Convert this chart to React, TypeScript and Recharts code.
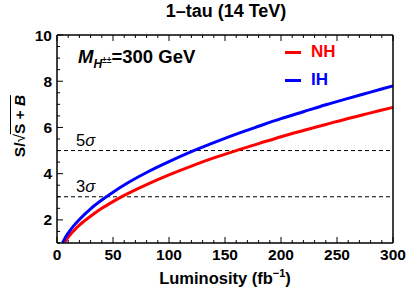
import { Line, LineChart, ReferenceLine, XAxis, YAxis } from 'recharts';

// luminosity (fb^-1) and significance
const lumi = [5, 7, 10, 15, 20, 30, 40, 50, 60, 80, 100, 120, 140, 160, 180, 200, 220, 240, 260, 280, 300];
const ihSig = [1.01, 1.2, 1.43, 1.75, 2.02, 2.48, 2.86, 3.2, 3.51, 4.05, 4.52, 4.95, 5.34, 5.71, 6.05, 6.38, 6.68, 6.98, 7.26, 7.53, 7.8];
const nhSig = [null, 1.04, 1.25, 1.53, 1.77, 2.16, 2.5, 2.79, 3.06, 3.53, 3.95, 4.33, 4.68, 5.0, 5.3, 5.6, 5.87, 6.13, 6.39, 6.63, 6.87];

const xTicks = [0, 10, 20, 30, 40, 50, 60, 70, 80, 90, 100, 110, 120, 130, 140, 150, 160, 170, 180, 190, 200, 210, 220, 230, 240, 250, 260, 270, 280, 290, 300];
const yTicks = [1, 1.5, 2, 2.5, 3, 3.5, 4, 4.5, 5, 5.5, 6, 6.5, 7, 7.5, 8, 8.5, 9, 9.5, 10];
const sigmaLines = [3, 5];

const series = [
  { key: 'nh', name: 'NH', color: '#ff0000' },
  { key: 'ih', name: 'IH', color: '#0000ff' },
];

const data = lumi.map((l, i) => ({ lumi: l, ih: ihSig[i], nh: nhSig[i] }));

const FONT = '"Liberation Sans", Arial, sans-serif';
const TICK_MARGIN = 5;

const isMajorX = (v: number) => v % 50 === 0;
const isMajorY = (v: number) => v % 2 === 0;

const BottomTick = ({ x, y, payload }: any) => {
  const v = payload.value;
  const axisY = y - TICK_MARGIN;
  return (
    <g>
      <line x1={x} x2={x} y1={axisY} y2={axisY - (isMajorX(v) ? 6 : 3)} stroke="#000" />
      {isMajorX(v) && (
        <text x={x} y={y} dy="0.8em" textAnchor="middle" fontFamily={FONT} fontWeight={700} fontSize={15.5} fill="#000">
          {v}
        </text>
      )}
    </g>
  );
};

const TopTick = ({ x, y, payload }: any) => (
  <line x1={x} x2={x} y1={y} y2={y + (isMajorX(payload.value) ? 6 : 3)} stroke="#000" />
);

const LeftTick = ({ x, y, payload }: any) => {
  const v = payload.value;
  const axisX = x + TICK_MARGIN;
  return (
    <g>
      <line x1={axisX} x2={axisX + (isMajorY(v) ? 6 : 3)} y1={y} y2={y} stroke="#000" />
      {isMajorY(v) && (
        <text x={x} y={y} dy="0.36em" textAnchor="end" fontFamily={FONT} fontWeight={700} fontSize={15.5} fill="#000">
          {v}
        </text>
      )}
    </g>
  );
};

const RightTick = ({ x, y, payload }: any) => (
  <line x1={x} x2={x - (isMajorY(payload.value) ? 6 : 3)} y1={y} y2={y} stroke="#000" />
);

const sigmaLabel = (n: number) => (props: any) => {
  const { x, y } = props.viewBox;
  return (
    <text x={x + 19} y={y - 5} fontFamily={FONT} fontSize={16.5} fill="#000">
      {n}
      <tspan fontStyle="italic">σ</tspan>
    </text>
  );
};

export default function App() {
  return (
    <div style={{ position: 'absolute', left: 0, top: 0, width: 409, height: 293, fontFamily: FONT, color: '#000' }}>
      <LineChart width={409} height={293} data={data} margin={{ top: 34, right: 15, bottom: 0, left: 0 }}>
        <XAxis
          dataKey="lumi"
          type="number"
          domain={[0, 300]}
          ticks={xTicks}
          interval={0}
          height={50}
          tickSize={0}
          tickMargin={TICK_MARGIN}
          tickLine={false}
          axisLine={{ stroke: '#000', strokeWidth: 1.5 }}
          tick={<BottomTick />}
        />
        <XAxis
          xAxisId="top"
          orientation="top"
          dataKey="lumi"
          type="number"
          domain={[0, 300]}
          ticks={xTicks}
          interval={0}
          height={1}
          tickSize={0}
          tickMargin={0}
          tickLine={false}
          axisLine={{ stroke: '#000', strokeWidth: 1.5 }}
          tick={<TopTick />}
        />
        <YAxis
          type="number"
          domain={[1, 10]}
          allowDataOverflow
          ticks={yTicks}
          interval={0}
          width={57}
          tickSize={0}
          tickMargin={TICK_MARGIN}
          tickLine={false}
          axisLine={{ stroke: '#000', strokeWidth: 1.5 }}
          tick={<LeftTick />}
        />
        <YAxis
          yAxisId="right"
          orientation="right"
          type="number"
          domain={[1, 10]}
          ticks={yTicks}
          interval={0}
          width={1}
          tickSize={0}
          tickMargin={0}
          tickLine={false}
          axisLine={{ stroke: '#000', strokeWidth: 1.5 }}
          tick={<RightTick />}
        />
        {sigmaLines.map((s) => (
          <ReferenceLine key={s} y={s} stroke="#000" strokeDasharray="4 3" strokeWidth={1} label={sigmaLabel(s)} />
        ))}
        {series.map((s) => (
          <Line
            key={s.key}
            type="monotone"
            dataKey={s.key}
            name={s.name}
            stroke={s.color}
            strokeWidth={3}
            dot={false}
            connectNulls
            isAnimationActive={false}
          />
        ))}
      </LineChart>

      <div style={{ position: 'absolute', left: 226, top: 1, transform: 'translateX(-50%)', fontWeight: 700, fontSize: 18, whiteSpace: 'nowrap' }}>
        1–tau (14 TeV)
      </div>

      <div style={{ position: 'absolute', left: 225, top: 267, transform: 'translateX(-50%)', fontWeight: 700, fontSize: 16.5, whiteSpace: 'nowrap' }}>
        Luminosity (fb<sup style={{ fontSize: 11 }}>−1</sup>)
      </div>

      <div
        style={{
          position: 'absolute',
          left: 20,
          top: 126,
          transform: 'translate(-50%, -50%) rotate(-90deg)',
          fontWeight: 700,
          fontSize: 15.5,
          whiteSpace: 'nowrap',
        }}
      >
        S/<span style={{ fontWeight: 400 }}>√</span>
        <span style={{ borderTop: '1.5px solid #000' }}>
          S + <i>B</i>
        </span>
      </div>

      <div style={{ position: 'absolute', left: 78, top: 46, fontWeight: 700, fontSize: 18.5, whiteSpace: 'nowrap' }}>
        <i>M</i>
        <sub style={{ fontSize: 12 }}>
          <i>H</i>
          <sup style={{ fontSize: 8.5 }}>±±</sup>
        </sub>
        =300 GeV
      </div>

      {series.map((s, i) => (
        <div
          key={s.key}
          style={{ position: 'absolute', left: 285, top: 42 + i * 28, display: 'flex', alignItems: 'center', whiteSpace: 'nowrap' }}
        >
          <span style={{ display: 'inline-block', width: 16, height: 3, background: s.color, marginRight: 10 }} />
          <span style={{ color: s.color, fontWeight: 700, fontSize: 17 }}>{s.name}</span>
        </div>
      ))}
    </div>
  );
}
